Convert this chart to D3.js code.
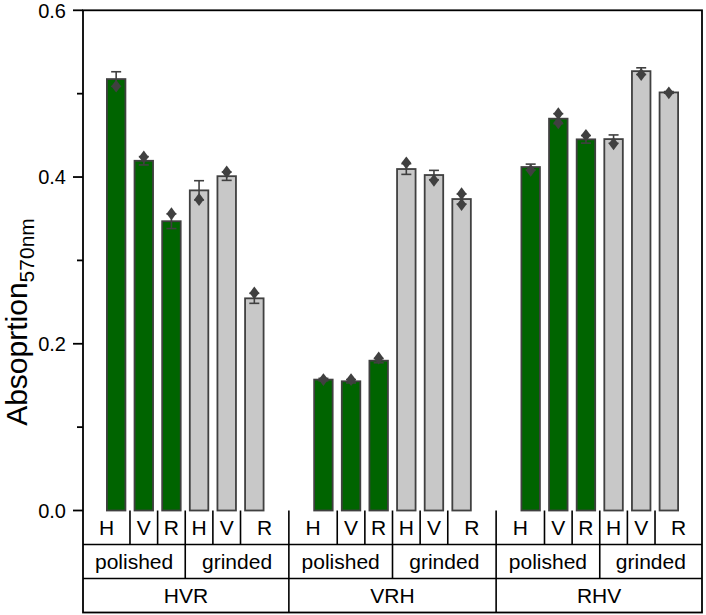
<!DOCTYPE html>
<html>
<head>
<meta charset="utf-8">
<script src="https://cdn.jsdelivr.net/npm/d3@7"></script>
<style>
  body { margin: 0; background: #fff; }
  svg { display: block; font-family: "Liberation Sans", Arial, sans-serif; }
</style>
</head>
<body>
<div id="chart"></div>
<script>
// Data
const groups = ['HVR', 'VRH', 'RHV'];
const treatments = ['polished', 'grinded'];
const directions = ['H', 'V', 'R'];

// bar heights, in order group > treatment > direction
const values = [
    0.5175, 0.4195, 0.347, 0.384, 0.401, 0.2545,
    0.157, 0.155, 0.1797, 0.4096, 0.4024, 0.3736,
    0.412, 0.470, 0.4452, 0.4455, 0.527, 0.5015
];
const errors = [
    0.0088, 0.005, 0.0088, 0.0116, 0.005, 0.006,
    0.0015, 0.002, 0.0025, 0.0064, 0.0056, 0.006,
    0.0035, 0.006, 0.0045, 0.005, 0.004, 0.001
];
// diamond data points
const points = [
    [0.509], [0.424], [0.356], [0.373], [0.406], [0.261],
    [0.157], [0.157], [0.183], [0.417], [0.396], [0.380, 0.367],
    [0.408], [0.476, 0.465], [0.450], [0.440], [0.523], [0.501]
];
const yTicks = [0, 0.2, 0.4, 0.6];
const yMinor = [0.1, 0.3, 0.5];

const W = 706, H = 615;
const plotLeft = 83, plotRight = 702, plotTop = 10.3, base = 510.5;
const rowH = 34;
const groupStep = 7.5;

const green = '#006400', grey = '#c8c8c8', edge = '#404040';

const svg = d3.select('#chart').append('svg')
    .attr('width', W)
    .attr('height', H);

const x = d3.scaleLinear().domain([-1.2, 21.2]).range([plotLeft, plotRight]);
const y = d3.scaleLinear().domain([0, 0.6]).range([base, plotTop]);

// flatten bars
const bars = [];
groups.forEach((g, gi) => {
    treatments.forEach((t, ti) => {
        directions.forEach((d, di) => {
            const k = gi * 6 + ti * 3 + di;
            bars.push({
                group: g, treat: t, dir: d, gi, ti,
                pos: gi * groupStep + ti * 3 + di,
                value: values[k], err: errors[k], pts: points[k]
            });
        });
    });
});

const barW = x(0.67) - x(0);

// bars
svg.append('g').selectAll('rect')
    .data(bars)
    .join('rect')
    .attr('x', d => x(d.pos) - barW / 2)
    .attr('width', barW)
    .attr('y', d => y(d.value))
    .attr('height', d => y(0) - y(d.value))
    .attr('fill', d => d.ti === 0 ? green : grey)
    .attr('stroke', edge)
    .attr('stroke-width', 1.8);

// error bars
const eb = svg.append('g').attr('stroke', edge).attr('stroke-width', 1.6);
bars.forEach(d => {
    const cx = x(d.pos);
    eb.append('line')
        .attr('x1', cx).attr('x2', cx)
        .attr('y1', y(d.value - d.err)).attr('y2', y(d.value + d.err));
    [d.value - d.err, d.value + d.err].forEach(v => {
        eb.append('line')
            .attr('x1', cx - 5).attr('x2', cx + 5)
            .attr('y1', y(v)).attr('y2', y(v));
    });
});

// diamonds
const dia = d3.symbol().type(d3.symbolDiamond).size(48);
svg.append('g').selectAll('path')
    .data(bars.flatMap(d => d.pts.map(p => ({ pos: d.pos, v: p }))))
    .join('path')
    .attr('d', dia)
    .attr('transform', d => `translate(${x(d.pos)},${y(d.v)}) scale(1.3,1)`)
    .attr('fill', edge);

// frame
svg.append('rect')
    .attr('x', plotLeft).attr('y', plotTop)
    .attr('width', plotRight - plotLeft).attr('height', base + rowH * 3 - plotTop)
    .attr('fill', 'none')
    .attr('stroke', '#000')
    .attr('stroke-width', 1.8);

// y axis ticks
const ax = svg.append('g').attr('stroke', '#000').attr('stroke-width', 1.8);
yTicks.forEach(t => {
    ax.append('line').attr('x1', plotLeft - 10).attr('x2', plotLeft)
        .attr('y1', y(t)).attr('y2', y(t));
});
yMinor.forEach(t => {
    ax.append('line').attr('x1', plotLeft - 6).attr('x2', plotLeft)
        .attr('y1', y(t)).attr('y2', y(t));
});
svg.append('g').selectAll('text')
    .data(yTicks)
    .join('text')
    .attr('x', plotLeft - 17)
    .attr('y', d => y(d))
    .attr('dy', '0.36em')
    .attr('text-anchor', 'end')
    .attr('font-size', 20)
    .text(d => d3.format('.1f')(d));

// axis title
const title = svg.append('text')
    .attr('transform', 'translate(27,322) rotate(-90)')
    .attr('text-anchor', 'middle')
    .attr('font-size', 30);
title.append('tspan').text('Absoprtion');
title.append('tspan').attr('font-size', 21).attr('dy', 7).text('570nm');

// label table
const tbl = svg.append('g').attr('stroke', '#000').attr('stroke-width', 1.6);
[1, 2].forEach(r => {
    tbl.append('line')
        .attr('x1', plotLeft).attr('x2', plotRight)
        .attr('y1', base + rowH * r).attr('y2', base + rowH * r);
});
// cell edges: row 1 between every bar, row 2 between treatments, row 3 between groups
const groupEdge = gi => gi * groupStep - 1.25;
bars.forEach((d, i) => {
    if (i === 0) return;
    const prev = bars[i - 1];
    let xe, rows;
    if (prev.gi !== d.gi) { xe = x(groupEdge(d.gi)); rows = 3; }
    else if (prev.ti !== d.ti) { xe = x((prev.pos + d.pos) / 2); rows = 2; }
    else { xe = x((prev.pos + d.pos) / 2); rows = 1; }
    tbl.append('line')
        .attr('x1', xe).attr('x2', xe)
        .attr('y1', base).attr('y2', base + rowH * rows);
});

const cellLeft = (d, i) => {
    if (i === 0) return plotLeft;
    const prev = bars[i - 1];
    return prev.gi !== d.gi ? x(groupEdge(d.gi)) : x((prev.pos + d.pos) / 2);
};
const cellRight = (d, i) => {
    if (i === bars.length - 1) return plotRight;
    const next = bars[i + 1];
    return next.gi !== d.gi ? x(groupEdge(next.gi)) : x((d.pos + next.pos) / 2);
};

const labels = svg.append('g')
    .attr('font-size', 21)
    .attr('text-anchor', 'middle')
    .attr('fill', '#000');

bars.forEach((d, i) => {
    labels.append('text')
        .attr('x', (cellLeft(d, i) + cellRight(d, i)) / 2)
        .attr('y', base + rowH * 0.5)
        .attr('dy', '0.36em')
        .text(d.dir);
});

groups.forEach((g, gi) => {
    const gl = gi === 0 ? plotLeft : x(groupEdge(gi));
    const gr = gi === groups.length - 1 ? plotRight : x(groupEdge(gi + 1));
    const mid = x(gi * groupStep + 2.5);
    labels.append('text')
        .attr('x', (gl + mid) / 2)
        .attr('y', base + rowH * 1.5)
        .attr('dy', '0.36em')
        .text(treatments[0]);
    labels.append('text')
        .attr('x', (mid + gr) / 2)
        .attr('y', base + rowH * 1.5)
        .attr('dy', '0.36em')
        .text(treatments[1]);
    labels.append('text')
        .attr('x', (gl + gr) / 2)
        .attr('y', base + rowH * 2.5)
        .attr('dy', '0.36em')
        .text(g);
});
</script>
</body>
</html>
